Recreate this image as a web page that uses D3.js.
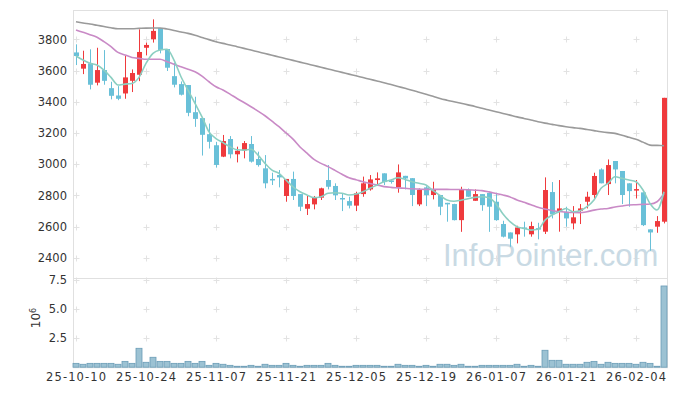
<!DOCTYPE html>
<html>
<head>
<meta charset="utf-8">
<script src="https://cdn.jsdelivr.net/npm/d3@7"></script>
<style>
  html, body { margin: 0; padding: 0; background: #fff; }
  svg { display: block; }
  .tick text { font-family: "DejaVu Sans", sans-serif; font-size: 11.5px; fill: #333; }
</style>
</head>
<body>
<div id="chart"></div>
<script>
// trading days, yy-mm-dd
var dates = [
  '25-10-10','25-10-13','25-10-14','25-10-15','25-10-16','25-10-17','25-10-20','25-10-21','25-10-22','25-10-23',
  '25-10-24','25-10-27','25-10-28','25-10-29','25-10-30','25-10-31','25-11-03','25-11-04','25-11-05','25-11-06',
  '25-11-07','25-11-10','25-11-11','25-11-12','25-11-13','25-11-14','25-11-17','25-11-18','25-11-19','25-11-20',
  '25-11-21','25-11-24','25-11-25','25-11-26','25-11-27','25-11-28','25-12-01','25-12-02','25-12-03','25-12-04',
  '25-12-05','25-12-08','25-12-09','25-12-10','25-12-11','25-12-12','25-12-15','25-12-16','25-12-17','25-12-18',
  '25-12-19','25-12-22','25-12-23','25-12-24','25-12-26','25-12-29','25-12-30','26-01-02','26-01-05','26-01-06',
  '26-01-07','26-01-08','26-01-09','26-01-12','26-01-13','26-01-14','26-01-15','26-01-16','26-01-19','26-01-20',
  '26-01-21','26-01-22','26-01-23','26-01-26','26-01-27','26-01-28','26-01-29','26-01-30','26-02-02','26-02-03',
  '26-02-04','26-02-05','26-02-06','26-02-09','26-02-10'
];

var open = [3716,3612,3646,3522,3603,3487,3440,3453,3534,3573, 3746,3800,3873,3738,3564,3513,3507,3333,3295,3192,
  3121,3048,3161,3063,3088,3129,3033,2973,2905,2930, 2796,2905,2808,2714,2742,2785,2898,2860,2783,2763,
  2734,2808,2838,2898,2941,2895,2851,2925,2910,2742, 2851,2802,2802,2752,2744,2641,2834,2765,2808,2816,
  2759,2616,2562,2550,2594,2550,2590,2567,2821,2699, 2695,2620,2701,2759,2802,2966,2872,3020,2956,2877,
  2832,2819,2582,2599,2631];
var high = [3768,3727,3736,3746,3731,3528,3500,3693,3607,3864, 3779,3928,3873,3738,3650,3530,3507,3432,3295,3260,
  3143,3187,3180,3112,3148,3180,3080,3058,2945,2962, 2905,2952,2808,2796,2796,2849,2994,2877,2813,2791,
  2823,2920,2930,2947,2941,2905,2998,2925,2910,2844, 2859,2887,2802,2752,2746,2855,2844,2838,2808,2816,
  2816,2637,2562,2605,2631,2631,2624,2915,2885,2898, 2727,2731,2744,2823,2945,2973,3030,3020,2956,2877,
  2898,2819,2582,2667,3425];
var low = [3635,3577,3479,3505,3509,3415,3410,3419,3462,3532, 3697,3779,3710,3597,3492,3440,3307,3239,3055,3100,
  2978,3045,3037,3011,3037,3010,2984,2845,2866,2851, 2759,2770,2699,2674,2710,2770,2838,2770,2699,2716,
  2699,2791,2830,2864,2866,2875,2817,2838,2731,2731, 2731,2774,2673,2631,2639,2566,2791,2765,2701,2566,
  2637,2530,2470,2492,2535,2535,2518,2552,2652,2567, 2599,2582,2616,2716,2780,2877,2802,2877,2744,2727,
  2780,2603,2445,2560,2620];
var close = [3693,3642,3509,3603,3534,3438,3419,3556,3584,3719, 3764,3854,3731,3618,3509,3445,3329,3290,3188,3143,
  2995,3148,3063,3086,3135,3016,2994,2877,2898,2915, 2905,2796,2727,2744,2789,2845,2855,2800,2778,2734,
  2813,2877,2902,2909,2885,2890,2947,2908,2802,2834, 2802,2834,2727,2742,2641,2834,2791,2808,2737,2727,
  2641,2535,2522,2594,2584,2603,2582,2834,2678,2716, 2652,2659,2716,2791,2924,2877,2994,2966,2802,2827,
  2840,2609,2562,2635,3425];

// moving averages as plotted
var ma5 = [3693,3667,3646,3635,3603,3556,3507,3513,3517,3556, 3646,3710,3731,3736,3667,3560,3475,3389,3303,3207,
  3164,3138,3111,3092,3090,3095,3058,3005,2962,2941, 2898,2855,2823,2802,2785,2791,2813,2817,2813,2802,
  2808,2823,2845,2866,2887,2898,2913,2902,2887,2877, 2866,2830,2800,2770,2762,2769,2778,2787,2791,2785,
  2745,2680,2631,2599,2588,2577,2582,2641,2674,2695, 2716,2695,2701,2727,2770,2845,2877,2919,2909,2898,
  2887,2834,2748,2706,2823];
var ma20 = [3860,3845,3830,3813,3785,3753,3716,3700,3684,3678, 3672,3672,3672,3657,3640,3624,3608,3592,3564,3528,
  3496,3475,3449,3421,3395,3368,3340,3310,3275,3240, 3200,3160,3110,3070,3030,3005,2984,2960,2935,2912,
  2900,2887,2876,2866,2856,2851,2848,2845,2842,2840, 2838,2838,2838,2838,2837,2837,2836,2833,2830,2822,
  2812,2802,2790,2770,2755,2740,2723,2712,2703,2696, 2692,2690,2689,2695,2705,2712,2716,2725,2732,2738,
  2740,2742,2744,2759,2812];
var ma60 = [3913,3905,3898,3890,3882,3874,3868,3868,3868,3870, 3872,3873,3873,3866,3857,3847,3838,3826,3812,3798,
  3785,3774,3764,3753,3742,3731,3720,3709,3698,3687, 3676,3665,3654,3643,3632,3621,3610,3599,3588,3577,
  3566,3555,3544,3533,3522,3510,3498,3486,3474,3461, 3448,3435,3421,3410,3400,3390,3380,3370,3358,3347,
  3336,3325,3314,3303,3293,3283,3272,3263,3255,3247, 3240,3234,3229,3222,3215,3208,3202,3197,3185,3172,
  3159,3141,3122,3120,3118];

// volume in millions
var volume = [0.33,0.25,0.33,0.33,0.33,0.33,0.25,0.5,0.33,1.62, 0.42,0.85,0.5,0.5,0.33,0.33,0.5,0.33,0.5,0.16,
  0.33,0.25,0.16,0.08,0.08,0.16,0.08,0.25,0.16,0.16, 0.33,0.16,0.08,0.16,0.16,0.16,0.33,0.16,0.08,0.08,
  0.16,0.16,0.16,0.16,0.08,0.08,0.25,0.16,0.16,0.08, 0.16,0.08,0.25,0.25,0.16,0.25,0.08,0.08,0.16,0.16,
  0.16,0.16,0.16,0.25,0.08,0.16,0.08,1.45,0.59,0.59, 0.25,0.25,0.25,0.42,0.5,0.25,0.42,0.33,0.33,0.33,
  0.25,0.42,0.33,0.08,6.96];

var priceTicks = [2400, 2600, 2800, 3000, 3200, 3400, 3600, 3800];
var volTicks = [2.5, 5.0, 7.5];
var dateTicks = dates.filter(function(d, i) { return i % 10 === 0; });

var width = 677, height = 396,
    left = 73, right = 667,
    priceTop = 10, priceBottom = 277.7,
    volBottom = 367.2;

var upColor = '#ef3a3d', downColor = '#69c0d8';

var svg = d3.select('#chart').append('svg')
    .attr('width', width).attr('height', height);

svg.append('rect').attr('width', width).attr('height', height).attr('fill', '#fff');

var x = d3.scaleBand().domain(dates).range([left - 0.5, right + 0.5]).padding(0);
var cx = function(i) { return x(dates[i]) + x.bandwidth() / 2; };

var y = d3.scaleLinear().domain([2272, 3988]).range([priceBottom, priceTop]);
var yVol = d3.scaleLinear().domain([0, 7.67]).range([volBottom, priceBottom]);

// grid, drawn as small crosses at tick intersections
var grid = svg.append('g').attr('stroke', '#e2e2e2').attr('stroke-width', 1);
function crosses(ys) {
  dateTicks.forEach(function(d) {
    var gx = Math.round(x(d) + x.bandwidth() / 2) + 0.5;
    ys.forEach(function(gy) {
      gy = Math.round(gy) + 0.5;
      grid.append('line').attr('x1', gx - 3).attr('x2', gx + 3).attr('y1', gy).attr('y2', gy);
      grid.append('line').attr('x1', gx).attr('x2', gx).attr('y1', gy - 3).attr('y2', gy + 3);
    });
  });
}
crosses(priceTicks.map(y));
crosses(volTicks.map(yVol));

// frame
svg.append('rect')
    .attr('x', left + 0.5).attr('y', priceTop + 0.5)
    .attr('width', right - left).attr('height', volBottom - priceTop)
    .attr('fill', 'none').attr('stroke', '#e0e0e0');
svg.append('line')
    .attr('x1', left).attr('x2', right)
    .attr('y1', Math.round(priceBottom) + 0.5).attr('y2', Math.round(priceBottom) + 0.5)
    .attr('stroke', '#e0e0e0');

// watermark
svg.append('text')
    .attr('x', 443).attr('y', 266)
    .style('font-family', '"Liberation Sans", Arial, sans-serif').style('font-size', '31px')
    .attr('fill', '#c9dae4')
    .text('InfoPointer.com');

// candles
var idx = d3.range(dates.length);
var candle = svg.append('g').selectAll('g')
  .data(idx)
  .enter().append('g')
    .attr('fill', function(i) { return close[i] >= open[i] ? upColor : downColor; })
    .attr('stroke', function(i) { return close[i] >= open[i] ? upColor : downColor; });

candle.append('line')
    .attr('x1', function(i) { return Math.round(cx(i)) + 0.5; })
    .attr('x2', function(i) { return Math.round(cx(i)) + 0.5; })
    .attr('y1', function(i) { return y(high[i]); })
    .attr('y2', function(i) { return y(low[i]); })
    .attr('stroke-width', 1);

candle.append('rect')
    .attr('stroke', 'none')
    .attr('x', function(i) { return Math.round(cx(i)) - 2; })
    .attr('width', 5)
    .attr('y', function(i) { return y(Math.max(open[i], close[i])); })
    .attr('height', function(i) { return Math.max(1.5, Math.abs(y(open[i]) - y(close[i]))); });

// moving averages
var line = function(vals) {
  return d3.line()
    .curve(d3.curveMonotoneX)
    .x(function(d, i) { return cx(i); })
    .y(function(d) { return y(d); })(vals);
};
[[ma60, '#9a9a9a'], [ma20, '#c98ac6'], [ma5, '#8ccfc2']].forEach(function(m) {
  svg.append('path')
      .attr('d', line(m[0]))
      .attr('fill', 'none')
      .attr('stroke', m[1])
      .attr('stroke-width', 1.6);
});

// volume
svg.append('g').selectAll('rect')
  .data(idx)
  .enter().append('rect')
    .attr('x', function(i) { return x(dates[i]) + 0.5; })
    .attr('width', x.bandwidth() - 1)
    .attr('y', function(i) { return yVol(volume[i]); })
    .attr('height', function(i) { return volBottom - yVol(volume[i]); })
    .attr('fill', '#9cc2d3')
    .attr('stroke', '#6a9cb6')
    .attr('stroke-width', 0.8);

// axes
var yAxis = d3.axisLeft(y).tickValues(priceTicks).tickSize(0).tickPadding(6)
    .tickFormat(d3.format('d'));
svg.append('g').attr('transform', 'translate(' + left + ',0)').call(yAxis)
    .call(function(g) { g.select('.domain').remove(); });

var volAxis = d3.axisLeft(yVol).tickValues(volTicks).tickSize(0).tickPadding(6)
    .tickFormat(d3.format('.1f'));
svg.append('g').attr('transform', 'translate(' + left + ',0)').call(volAxis)
    .call(function(g) { g.select('.domain').remove(); });

var xAxis = d3.axisBottom(x).tickValues(dateTicks).tickSize(0).tickPadding(6);
svg.append('g').attr('transform', 'translate(0,' + volBottom + ')').call(xAxis)
    .call(function(g) { g.select('.domain').remove(); })
    .selectAll('text')
      .attr('textLength', 60).attr('lengthAdjust', 'spacing');

// 10^6 label for volume
var unit = svg.append('text')
    .attr('transform', 'translate(40,318) rotate(-90)')
    .attr('text-anchor', 'middle')
    .style('font-family', '"DejaVu Sans", sans-serif')
    .style('font-size', '12px')
    .attr('fill', '#333');
unit.append('tspan').text('10');
unit.append('tspan').attr('dy', '-0.55em').style('font-size', '8px').text('6');
</script>
</body>
</html>
